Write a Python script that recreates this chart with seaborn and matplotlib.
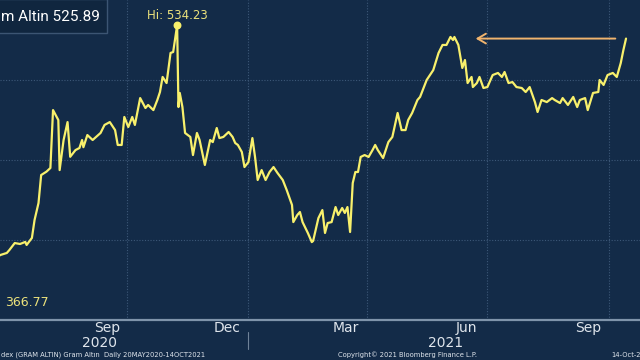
import matplotlib
matplotlib.use("Agg")
import matplotlib.pyplot as plt
import matplotlib.dates as mdates
import matplotlib.transforms as mtransforms
import seaborn as sns
import pandas as pd

# Gram Altin daily close
dates = [
    "2020-05-20", "2020-06-27", "2020-07-02", "2020-07-04", "2020-07-08", "2020-07-12",
    "2020-07-16", "2020-07-17", "2020-07-21", "2020-07-23", "2020-07-26", "2020-07-28",
    "2020-08-01", "2020-08-04", "2020-08-06", "2020-08-10", "2020-08-11", "2020-08-14",
    "2020-08-17", "2020-08-19", "2020-08-23", "2020-08-26", "2020-08-28", "2020-08-29",
    "2020-09-01", "2020-09-05", "2020-09-11", "2020-09-14", "2020-09-18", "2020-09-22",
    "2020-09-24", "2020-09-27", "2020-09-29", "2020-10-02", "2020-10-05", "2020-10-07",
    "2020-10-11", "2020-10-15", "2020-10-17", "2020-10-21", "2020-10-24", "2020-10-26",
    "2020-10-28", "2020-10-31", "2020-11-03", "2020-11-05", "2020-11-08", "2020-11-09",
    "2020-11-10", "2020-11-12", "2020-11-14", "2020-11-18", "2020-11-20", "2020-11-23",
    "2020-11-25", "2020-11-29", "2020-12-03", "2020-12-05", "2020-12-08", "2020-12-10",
    "2020-12-13", "2020-12-17", "2020-12-20", "2020-12-22", "2020-12-24", "2020-12-27",
    "2020-12-29", "2021-01-01", "2021-01-04", "2021-01-06", "2021-01-08", "2021-01-11",
    "2021-01-14", "2021-01-17", "2021-01-20", "2021-01-23", "2021-01-27", "2021-01-30",
    "2021-02-03", "2021-02-04", "2021-02-07", "2021-02-09", "2021-02-11", "2021-02-15",
    "2021-02-18", "2021-02-19", "2021-02-23", "2021-02-26", "2021-02-28", "2021-03-02",
    "2021-03-05", "2021-03-08", "2021-03-10", "2021-03-13", "2021-03-15", "2021-03-17",
    "2021-03-19", "2021-03-21", "2021-03-23", "2021-03-25", "2021-03-27", "2021-03-30",
    "2021-04-02", "2021-04-05", "2021-04-07", "2021-04-09", "2021-04-13", "2021-04-17",
    "2021-04-20", "2021-04-24", "2021-04-27", "2021-04-30", "2021-05-02", "2021-05-05",
    "2021-05-09", "2021-05-11", "2021-05-16", "2021-05-21", "2021-05-25", "2021-05-28",
    "2021-05-31", "2021-06-03", "2021-06-05", "2021-06-06", "2021-06-09", "2021-06-12",
    "2021-06-14", "2021-06-16", "2021-06-19", "2021-06-20", "2021-06-23", "2021-06-25",
    "2021-06-28", "2021-07-01", "2021-07-05", "2021-07-09", "2021-07-12", "2021-07-14",
    "2021-07-17", "2021-07-20", "2021-07-23", "2021-07-27", "2021-07-30", "2021-08-02",
    "2021-08-06", "2021-08-08", "2021-08-11", "2021-08-15", "2021-08-19", "2021-08-21",
    "2021-08-25", "2021-08-27", "2021-08-31", "2021-09-04", "2021-09-07", "2021-09-09",
    "2021-09-13", "2021-09-15", "2021-09-19", "2021-09-23", "2021-09-24", "2021-09-27",
    "2021-09-30", "2021-10-04", "2021-10-07", "2021-10-10", "2021-10-12", "2021-10-14",
]
prices = [
    366.77, 390.6, 391.9, 393.8, 398.1, 397.5,
    398.8, 396.9, 401.3, 412.5, 423.1, 440.6,
    442.7, 445.0, 481.2, 475.0, 443.7, 462.5,
    473.7, 452.0, 456.2, 457.5, 462.5, 458.0,
    465.6, 462.5, 466.9, 471.9, 473.7, 468.7,
    459.4, 459.4, 476.9, 470.6, 476.9, 471.9,
    488.7, 482.5, 484.4, 481.2, 487.5, 492.5,
    501.9, 498.1, 516.9, 517.5, 534.23, 483.1,
    491.9, 483.1, 466.9, 464.4, 453.1, 466.9,
    462.5, 446.9, 462.5, 461.2, 470.0, 463.7,
    464.4, 467.5, 464.4, 460.6, 459.4, 455.0,
    445.6, 448.7, 463.7, 451.9, 437.5, 443.7,
    437.5, 442.5, 445.6, 441.9, 437.5, 431.2,
    421.9, 411.2, 415.6, 417.5, 411.2, 404.4,
    398.7, 399.4, 413.7, 418.7, 404.4, 410.6,
    411.2, 420.6, 415.6, 420.0, 416.9, 420.6,
    405.0, 435.6, 442.5, 442.5, 451.9, 453.1,
    451.9, 456.2, 459.4, 456.2, 451.2, 461.2,
    464.4, 479.4, 468.7, 468.7, 475.0, 479.4,
    487.5, 489.4, 500.0, 506.2, 516.9, 521.9,
    521.9, 526.9, 525.0, 526.9, 521.9, 507.5,
    512.5, 498.1, 501.9, 495.6, 498.1, 501.9,
    495.0, 495.6, 503.1, 504.4, 501.9, 505.0,
    498.1, 498.7, 495.6, 495.0, 492.5, 495.6,
    486.2, 480.0, 487.5, 486.2, 488.7, 487.5,
    485.6, 488.7, 484.4, 489.4, 483.1, 487.5,
    488.7, 481.2, 491.9, 492.5, 500.0, 496.9,
    503.1, 504.4, 501.9, 510.6, 518.7, 525.89,
]

month_labels = ["Sep", "Dec", "Mar", "Jun", "Sep"]
month_label_dates = ["2020-09-16", "2020-12-16", "2021-03-16", "2021-06-15", "2021-09-15"]
year_labels = ["2020", "2021"]
year_label_dates = ["2020-09-10", "2021-05-30"]
grid_dates = ["2020-10-01", "2021-01-01", "2021-04-01", "2021-07-01", "2021-10-01"]

df = pd.DataFrame({"date": pd.to_datetime(dates), "price": prices})

bg = "#132b48"
line_col = "#f8f06c"
grid_col = "#3d5878"
text_col = "#dfe5ec"

sns.set_style("dark", {"axes.facecolor": bg, "figure.facecolor": bg})
plt.rcParams["font.family"] = ["DejaVu Sans"]

fig = plt.figure(figsize=(6.4, 3.6), dpi=100)
ax = fig.add_axes([0, 40 / 360, 1, 320 / 360])

sns.lineplot(data=df, x="date", y="price", ax=ax, color=line_col, linewidth=1.6)

ax.set_xlim(pd.Timestamp("2020-06-26 20:00"), pd.Timestamp("2021-10-24 14:00"))
ax.set_ylim(350, 550)
ax.set_xlabel("")
ax.set_ylabel("")

# grid
for g in grid_dates:
    ax.axvline(pd.Timestamp(g), color=grid_col, lw=0.8, ls=(0, (1, 1.5)), zorder=0)
for yv in [400, 450, 500]:
    ax.axhline(yv, color=grid_col, lw=0.8, ls=(0, (1, 1.5)), zorder=0)

for s in ["top", "right", "left"]:
    ax.spines[s].set_visible(False)
ax.spines["bottom"].set_color("#7f94ab")
ax.spines["bottom"].set_linewidth(1.6)

ax.xaxis.set_major_locator(mdates.MonthLocator())
ax.xaxis.set_major_formatter(plt.NullFormatter())
ax.tick_params(axis="x", direction="out", length=3, width=1, color="#7f94ab")
ax.set_yticks([])

trans = mtransforms.blended_transform_factory(ax.transData, fig.transFigure)
for lab, d in zip(month_labels, month_label_dates):
    ax.text(pd.Timestamp(d), 1 - 328 / 360, lab, transform=trans, ha="center", va="center",
            color=text_col, fontsize=10)
for lab, d in zip(year_labels, year_label_dates):
    ax.text(pd.Timestamp(d), 1 - 343 / 360, lab, transform=trans, ha="center", va="center",
            color=text_col, fontsize=10)
ax.plot([pd.Timestamp("2021-01-01")] * 2, [1 - 332 / 360, 1 - 349 / 360], transform=trans,
        color="#6f8298", lw=0.8, clip_on=False)

# high marker and labels
hi_idx = df["price"].idxmax()
hi_date, hi_val = df.loc[hi_idx, "date"], df.loc[hi_idx, "price"]
ax.scatter([hi_date], [hi_val], s=22, color=line_col, zorder=5)
ax.text(hi_date, hi_val + 1.8, f"Hi: {hi_val:.2f}", ha="center", va="bottom",
        color="#ece27c", fontsize=8.5)
ax.text(0.008, 1 - 302 / 360, "366.77", transform=fig.transFigure, ha="left", va="center",
        color="#ece27c", fontsize=9)

# arrow back to the previous peak
last_date, last_val = df["date"].iloc[-1], df["price"].iloc[-1]
ax.annotate("", xy=(pd.Timestamp("2021-06-20"), last_val),
            xytext=(last_date - pd.Timedelta(days=6), last_val),
            arrowprops=dict(arrowstyle="->,head_length=0.6,head_width=0.35",
                            color="#f0b46e", lw=1.4))

# title box
fig.patches.append(plt.Rectangle((-0.01, 1 - 33 / 360), 107 / 640 + 0.01, 34 / 360,
                                 transform=fig.transFigure, facecolor="#10263f",
                                 edgecolor="#3c5573", lw=1))
fig.text(1 / 640, 1 - 17 / 360, f"m Altin {last_val:.2f}", ha="left", va="center",
         color="white", fontsize=11, family=["Roboto", "DejaVu Sans"])

# footer
fig.text(1 / 640, 1 - 355 / 360, "dex (GRAM ALTIN) Gram Altın  Daily 20MAY2020-14OCT2021",
         ha="left", va="center", color=text_col, fontsize=4.9)
fig.text(338 / 640, 1 - 355 / 360, "Copyright© 2021 Bloomberg Finance L.P.", ha="left",
         va="center", color=text_col, fontsize=4.9)
fig.text(611 / 640, 1 - 355 / 360, "14-Oct-2", ha="left", va="center",
         color=text_col, fontsize=4.9)

fig.savefig("out.png", dpi=100, facecolor=bg)
